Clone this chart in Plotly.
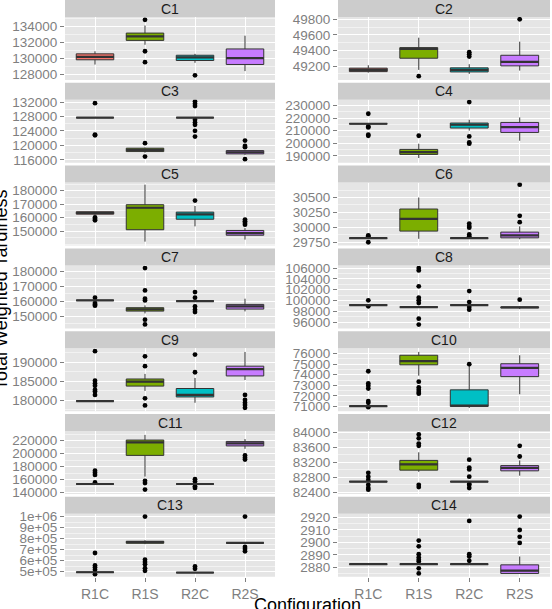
import plotly.graph_objects as go

configs = ["R1C", "R1S", "R2C", "R2S"]
colors = ["#F8766D", "#7CAE00", "#00BFC4", "#C77CFF"]
panels = ["C1", "C2", "C3", "C4", "C5", "C6", "C7", "C8", "C9", "C10", "C11", "C12", "C13", "C14"]

# stats per config: [lower whisker, q1, median, q3, upper whisker]
C1_stats = [[129200, 129800, 130175, 130550, 130875], [131700, 132250, 132750, 133170, 134125],
            [129420, 129710, 130100, 130375, 130550], [128375, 129210, 130000, 131170, 132840]]
C1_out = [[], [134840, 130880, 129500], [127840], []]
C2_stats = [[49115, 49128, 49150, 49172, 49210], [49150, 49300, 49419, 49436, 49564],
            [49099, 49124, 49150, 49176, 49223], [49141, 49201, 49253, 49338, 49513]]
C2_out = [[], [49069], [49377, 49351, 49321], [49800]]
C3_stats = [[127700, 127700, 127700, 127700, 127700], [118000, 118280, 118750, 119220, 119400],
            [127700, 127700, 127700, 127700, 127700], [117400, 117640, 118100, 118560, 118700]]
C3_out = [[131700, 123000, 122800], [120600, 116900],
          [132170, 131530, 130900, 127080, 126330, 125700, 124030, 122450], [121330, 119860, 119500, 116170]]
C4_stats = [[215480, 215480, 215480, 215480, 215480], [188250, 191110, 193000, 195080, 199600],
            [210000, 212060, 214680, 216030, 218650], [201980, 208570, 212860, 216510, 220480]]
C4_out = [[223400, 213330, 212540, 206750, 205950], [205950], [232700, 205400, 200630, 199600], []]
C5_stats = [[162000, 162580, 163560, 164320, 164320], [142120, 150980, 167350, 169620, 184550],
            [153480, 158790, 162350, 164090, 168640], [143640, 146890, 148410, 150450, 152200]]
C5_out = [[160080, 159020, 158030], [], [172650], [158550, 157270, 155990, 154780]]
C6_stats = [[29818, 29818, 29818, 29818, 29818], [29808, 29937, 30142, 30307, 30500],
            [29818, 29818, 29818, 29818, 29818], [29800, 29824, 29864, 29920, 30017]]
C6_out = [[29864, 29850, 29750], [], [30063, 30023, 29995, 29881, 29852], [30716, 30193, 30086]]
C7_stats = [[160670, 160670, 160670, 160670, 160670], [152000, 153530, 154670, 155800, 157330],
            [160200, 160200, 160200, 160200, 160200], [153330, 154870, 156670, 158000, 161800]]
C7_out = [[162470, 158870, 157130, 158000], [182200, 167330, 161800, 160670, 147800, 144670],
          [166200, 162470, 156670, 154470, 152870], []]
C8_stats = [[99155, 99155, 99155, 99155, 99155], [98785, 98785, 98785, 98785, 98785],
            [99155, 99155, 99155, 99155, 99155], [98400, 98650, 98730, 98800, 98900]]
C8_out = [[100025, 98915], [106000, 105575, 102615, 100525, 100025, 99525, 96640, 95530],
          [101745, 99710, 98785, 98300], [100150]]
C9_stats = [[179810, 179810, 179810, 179810, 179810], [182470, 183720, 184870, 185580, 186910],
            [179360, 180880, 181410, 183090, 185850], [185320, 186380, 188140, 188940, 192660]]
C9_out = [[192850, 185130, 184420, 183800, 182740, 182290, 181400], [191520, 188940, 180530, 178670],
          [191970, 187340], [181410, 180080, 179360, 178750, 178030]]
C10_stats = [[71025, 71025, 71025, 71025, 71025], [73910, 74940, 75290, 75840, 76160],
             [70860, 71000, 71090, 72570, 74850], [72150, 73820, 74650, 75040, 75840]]
C10_out = [[74330, 73170, 72950, 72690, 71510, 71340, 70930], [73340, 72790, 72570, 72370, 72210],
           [75000], []]
C11_stats = [[153370, 153370, 153370, 153370, 153370], [164800, 197440, 217440, 221050, 229020],
             [153370, 153370, 153370, 153370, 153370], [207520, 212030, 215940, 218950, 222560]]
C11_out = [[173830, 170820, 167360, 155780], [158340, 154870, 144800],
           [160890, 157280, 149760, 147360], [197440, 193980, 190970]]
C12_stats = [[82680, 82680, 82680, 82680, 82680], [82942, 82986, 83142, 83246, 83462],
             [82680, 82680, 82680, 82680, 82680], [82838, 82968, 83046, 83108, 83246]]
C12_out = [[82916, 82812, 82726, 82596, 82510, 82466], [83940, 83836, 83696, 83636, 82596, 82536],
           [83264, 83056, 83004, 82614, 82596, 82510, 82812], [83636, 83350]]
C13_stats = [[495430, 495430, 495430, 495430, 495430], [750000, 758000, 767900, 776000, 785000],
             [492700, 492700, 492700, 492700, 492700], [761500, 761500, 761500, 761500, 761500]]
C13_out = [[669750, 556900, 538500, 517400, 477100], [1000000, 609200, 587200, 568800, 532100, 508300],
           [547700, 526600], [1000000, 724800, 706400, 685300]]
C14_stats = [[2882.5, 2882.5, 2882.5, 2882.5, 2882.5], [2882.5, 2882.5, 2882.5, 2882.5, 2882.5],
             [2882.5, 2882.5, 2882.5, 2882.5, 2882.5], [2875, 2875.1, 2877.3, 2882, 2888.7]]
C14_out = [[], [2901.5, 2896.9, 2890.6, 2887.9, 2886, 2884.7, 2879.2, 2875.1],
           [2917.3, 2890.6, 2888.7, 2885.2], [2920.8, 2910, 2904.5, 2899.6]]

# tick values per panel
C1_ticks = [128000, 130000, 132000, 134000]
C2_ticks = [49200, 49400, 49600, 49800]
C3_ticks = [116000, 120000, 124000, 128000, 132000]
C4_ticks = [190000, 200000, 210000, 220000, 230000]
C5_ticks = [150000, 160000, 170000, 180000]
C6_ticks = [29750, 30000, 30250, 30500]
C7_ticks = [150000, 160000, 170000, 180000]
C8_ticks = [96000, 98000, 100000, 102000, 104000, 106000]
C9_ticks = [180000, 185000, 190000]
C10_ticks = [71000, 72000, 73000, 74000, 75000, 76000]
C11_ticks = [140000, 160000, 180000, 200000, 220000]
C12_ticks = [82400, 82800, 83200, 83600, 84000]
C13_ticks = [500000, 600000, 700000, 800000, 900000, 1000000]
C13_ticklabels = ["5e+05", "6e+05", "7e+05", "8e+05", "9e+05", "1e+06"]
C14_ticks = [2880, 2890, 2900, 2910, 2920]

stats_all = [C1_stats, C2_stats, C3_stats, C4_stats, C5_stats, C6_stats, C7_stats,
             C8_stats, C9_stats, C10_stats, C11_stats, C12_stats, C13_stats, C14_stats]
out_all = [C1_out, C2_out, C3_out, C4_out, C5_out, C6_out, C7_out,
           C8_out, C9_out, C10_out, C11_out, C12_out, C13_out, C14_out]
ticks_all = [C1_ticks, C2_ticks, C3_ticks, C4_ticks, C5_ticks, C6_ticks, C7_ticks,
             C8_ticks, C9_ticks, C10_ticks, C11_ticks, C12_ticks, C13_ticks, C14_ticks]
ranges = [[127250, 135200], [49020, 49830], [115170, 132640], [184440, 234500],
          [139170, 186060], [29694, 30750], [142000, 184000], [94830, 106500],
          [177150, 193640], [70550, 76510], [138000, 235000], [82350, 84030],
          [454000, 1024800], [2872.4, 2923]]

W, H = 552, 609
col_x = [(65, 275), (338, 550)]
row_pitch = 82.8
strip_h = 17
panel_h = 63
BOXW = 0.75

fig = go.Figure()
shapes = []
annotations = []
layout = {}

for k, name in enumerate(panels):
    r, c = k // 2, k % 2
    ax = "" if k == 0 else str(k + 1)
    xa, ya = "x" + ax, "y" + ax
    x0, x1 = col_x[c]
    top = r * row_pitch
    ptop = top + strip_h
    pbot = ptop + panel_h
    stats = stats_all[k]
    for i, cfg in enumerate(configs):
        lo, q1, md, q3, hi = stats[i]
        fig.add_trace(go.Box(
            x=[cfg], q1=[q1], median=[md], q3=[q3], lowerfence=[lo], upperfence=[hi],
            fillcolor=colors[i], line=dict(color="#333333", width=1),
            width=BOXW, whiskerwidth=0, boxpoints=False, showlegend=False,
            hoverinfo="skip", xaxis=xa, yaxis=ya))
        # bold median line (ggplot style)
        shapes.append(dict(type="line", xref=xa, yref=ya, layer="above",
                           x0=i - BOXW / 2, x1=i + BOXW / 2, y0=md, y1=md,
                           line=dict(color="#333333", width=2.2)))
        outs = out_all[k][i]
        if outs:
            fig.add_trace(go.Scatter(
                x=[cfg] * len(outs), y=outs, mode="markers",
                marker=dict(color="black", size=4.8), showlegend=False,
                hoverinfo="skip", xaxis=xa, yaxis=ya))
    ticks = ticks_all[k]
    step = ticks[1] - ticks[0]
    yax = dict(
        domain=[1 - pbot / H, 1 - ptop / H], range=ranges[k], anchor=xa,
        tickmode="array", tickvals=ticks,
        ticktext=C13_ticklabels if name == "C13" else [str(t) for t in ticks],
        showgrid=True, gridcolor="white", gridwidth=1.1, zeroline=False,
        ticks="outside", ticklen=4, tickcolor="#7F7F7F", tickwidth=1,
        tickfont=dict(family="Liberation Sans, Arial", size=13.5, color="#7F7F7F"),
        minor=dict(tickmode="linear", tick0=ticks[0] - step / 2, dtick=step / 2,
                   showgrid=True, gridcolor="#F2F2F2", gridwidth=0.6, ticks=""),
        automargin=False, fixedrange=True, showline=False,
    )
    xax = dict(
        domain=[x0 / W, x1 / W], anchor=ya, type="category",
        categoryorder="array", categoryarray=configs, range=[-0.6, 3.6],
        showgrid=True, gridcolor="white", gridwidth=1.1, zeroline=False,
        showticklabels=(r == 6), ticks="outside" if r == 6 else "",
        ticklen=4, tickcolor="#7F7F7F",
        tickfont=dict(family="Liberation Sans, Arial", size=14, color="#7F7F7F"),
        automargin=False, fixedrange=True, showline=False,
    )
    layout["xaxis" + ax] = xax
    layout["yaxis" + ax] = yax
    # panel background
    shapes.append(dict(type="rect", xref="paper", yref="paper", layer="below",
                       x0=x0 / W, x1=x1 / W, y0=1 - pbot / H, y1=1 - ptop / H,
                       fillcolor="#E5E5E5", line=dict(width=0)))
    # strip
    shapes.append(dict(type="rect", xref="paper", yref="paper", layer="below",
                       x0=x0 / W, x1=x1 / W, y0=1 - ptop / H, y1=1 - top / H,
                       fillcolor="#CCCCCC", line=dict(width=0)))
    annotations.append(dict(text=name, xref="paper", yref="paper",
                            x=(x0 + x1) / 2 / W, y=1 - (top + strip_h / 2) / H,
                            xanchor="center", yanchor="middle", showarrow=False,
                            font=dict(family="Liberation Sans, Arial", size=14, color="#1A1A1A")))

annotations.append(dict(text="Configuration", xref="paper", yref="paper",
                        x=307 / W, y=1 - 593 / H, xanchor="center", yanchor="top",
                        showarrow=False,
                        font=dict(family="Liberation Sans, Arial", size=18, color="black")))
annotations.append(dict(text="Total Weighted Tardiness", xref="paper", yref="paper",
                        x=13 / W, y=1 - 290 / H, xanchor="right", yanchor="middle",
                        textangle=-90, showarrow=False,
                        font=dict(family="Liberation Sans, Arial", size=18, color="black")))

fig.update_layout(
    width=W, height=H, autosize=False,
    margin=dict(l=0, r=0, t=0, b=0),
    paper_bgcolor="white", plot_bgcolor="rgba(0,0,0,0)",
    shapes=shapes, annotations=annotations, boxmode="overlay",
    **layout,
)

fig.write_html("out.html")
